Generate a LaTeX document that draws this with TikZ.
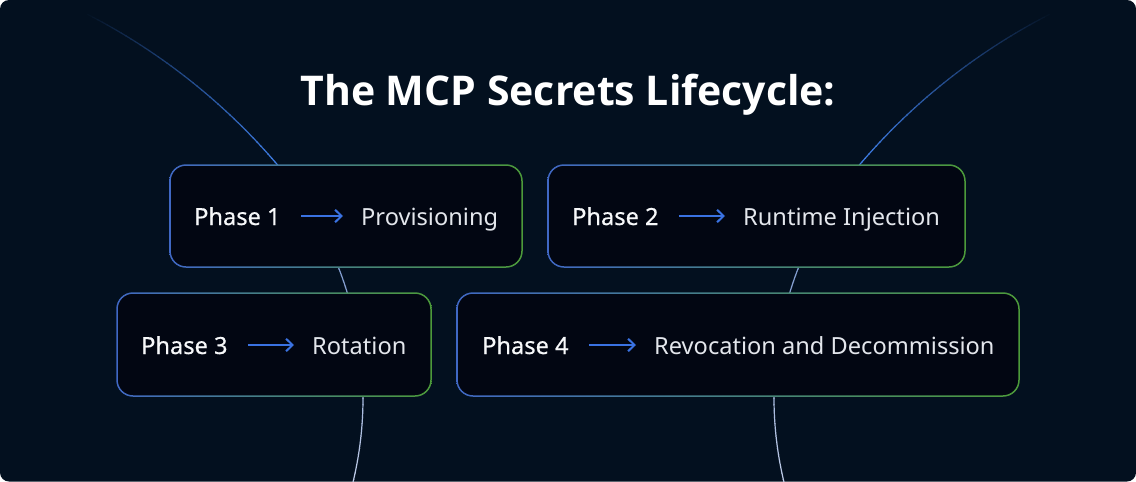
\documentclass[tikz,border=0pt]{standalone}
\usepackage{fontspec}
\setmainfont{Noto Sans}
\newfontfamily\phasefont{Noto Sans}[FakeBold=0.6]
\newfontfamily\titlefont{Open Sans}
\usetikzlibrary{arrows.meta}
\definecolor{cardbg}{HTML}{03101F}
\definecolor{boxbg}{HTML}{020612}
\definecolor{bordblue}{HTML}{4068C4}
\definecolor{bordgreen}{HTML}{4C9A3A}
\definecolor{arcblue}{HTML}{3F7EE6}
\definecolor{arcmid}{HTML}{7C98CC}
\definecolor{arcpale}{HTML}{C4D0EA}
\definecolor{arrowblue}{HTML}{3A72E2}
\definecolor{phasewhite}{HTML}{F7F8FA}
\definecolor{labelwhite}{HTML}{E3E6EC}

\tikzset{
  arcline/.style={line width=1.2pt},
  phasetxt/.style={anchor=base west, inner sep=0pt, text height=18pt, text depth=0pt,
    font=\phasefont\fontsize{23.6}{28}\selectfont, text=phasewhite},
  labeltxt/.style={anchor=base west, inner sep=0pt, text height=18pt, text depth=0pt,
    font=\fontsize{23.6}{28}\selectfont, text=labelwhite},
  flow/.style={draw=arrowblue, line width=2pt, -{Straight Barb[length=6.5pt,width=12.5pt]},
    shorten <=20pt, shorten >=18pt},
  titletxt/.style={anchor=base, inner sep=0pt, font=\titlefont\bfseries\fontsize{41}{48}\selectfont, text=white}
}

\newcommand{\phasebox}[4]{%
  \fill[boxbg, rounded corners=16pt] (#1,#2) rectangle (#3,#4);
  \path[even odd rule, left color=bordblue, right color=bordgreen]
    [rounded corners=16.75pt] (#1-0.75,#2-0.75) rectangle (#3+0.75,#4+0.75)
    [rounded corners=15.25pt] (#1+0.75,#2+0.75) rectangle (#3-0.75,#4-0.75);
}

\newcommand{\lifearcs}{%
  \foreach \i in {0,...,45} {
    \pgfmathsetmacro\aa{-63.3+\i*0.5}
    \pgfmathsetmacro\pc{100*(\i/45)^0.9}
    \draw[arcline, draw=arcblue!\pc!cardbg] (-198.5,570.6) ++(\aa:625.5)
      arc[start angle=\aa, end angle=\aa+0.6, radius=625.5];
  }
  \foreach \i in {0,...,40} {
    \pgfmathsetmacro\aa{-24+\i}
    \pgfmathsetmacro\pc{100*(\i/40)}
    \draw[arcline, draw=arcpale!\pc!arcmid] (3,398) ++(\aa:360)
      arc[start angle=\aa, end angle=\aa+1.1, radius=360];
  }
}

\begin{document}
\begin{tikzpicture}[x=1pt, y=-1pt]
  \fill[white] (0,0) rectangle (1136,482);
  \useasboundingbox (0,0) rectangle (1136,482);
  \fill[cardbg, rounded corners=9pt] (0,0) rectangle (1136,481.5);

  % background arcs
  \lifearcs
  \begin{scope}[shift={(1137,0)}, xscale=-1]
    \lifearcs
  \end{scope}

  % title
  \node[titletxt] (title) at (568,105) {The MCP Secrets Lifecycle:};

  % boxes
  \phasebox{170}{165}{522}{267}
  \phasebox{548}{165}{965}{267}
  \phasebox{117}{293}{431}{396}
  \phasebox{457}{293}{1019}{396}

  % texts
  \node[phasetxt] (p1) at (194,225) {Phase 1};
  \node[labeltxt] (l1) at (361,225) {Provisioning};
  \node[phasetxt] (p2) at (572,225) {Phase 2};
  \node[labeltxt] (l2) at (743,225) {Runtime Injection};
  \node[phasetxt] (p3) at (141,354) {Phase 3};
  \node[labeltxt] (l3) at (312,354) {Rotation};
  \node[phasetxt] (p4) at (482,354) {Phase 4};
  \node[labeltxt] (l4) at (654,354) {Revocation and Decommission};

  \draw[flow] (p1.east) -- (l1.west);
  \draw[flow] (p2.east) -- (l2.west);
  \draw[flow] (p3.east) -- (l3.west);
  \draw[flow] (p4.east) -- (l4.west);
\end{tikzpicture}
\end{document}
